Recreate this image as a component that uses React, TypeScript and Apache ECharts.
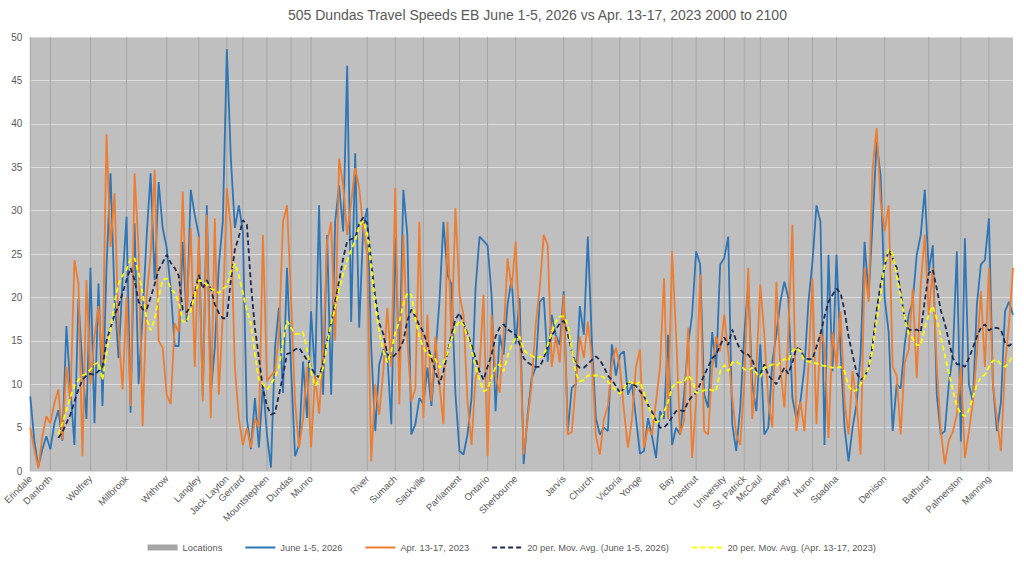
import React, { useEffect, useRef } from "react";
import * as echarts from "echarts";

const TITLE = "505 Dundas Travel Speeds EB June 1-5, 2026 vs Apr. 13-17, 2023 2000 to 2100";

const LOCATIONS = ["Erindale","Danforth","Wolfrey","Millbrook","Withrow","Langley","Jack Layton","Gerrard","Mountstephen","Dundas","Munro","River","Sumach","Sackville","Parliament","Ontario","Sherbourne","Jarvis","Church","Victoria","Yonge","Bay","Chestnut","University","St. Patrick","McCaul","Beverley","Huron","Spadina","Denison","Bathurst","Palmerston","Manning"];
const LOCATION_INDEX = [0,5,15,24,34,42,49,53,59,65,70,84,91,98,107,114,121,133,140,147,152,160,166,173,178,182,189,195,201,213,224,232,239];

const JUNE_2026 = [
  8.6,3.5,0.5,2.5,4,2.5,5.5,7,3.5,16.7,9.5,3,19.8,12,6,23.4,5.5,21.6,7.5,23.4,34.3,20,13,22,29.3,6.7,28.5,10,18,27,34.3,22,
  33.3,28,25.7,21,14.4,14.4,26.4,17.2,32.4,29.5,27.2,8.6,30.6,9,14.2,23.7,28.7,48.6,36,28,30.6,27.6,6,2.5,8.4,2.7,10,4.2,0.4,14.2,
  18.8,9,23.4,12,1.7,3,12.6,6.1,18.4,11,30.6,8.8,27.2,8.8,28.7,32.9,27.6,46.7,17.2,36.6,16.5,28,30.3,14.2,4.6,12.3,14,13.5,5.4,26.8,
  12,32.4,27.2,4.2,5.4,8.4,7.7,11.9,7.5,13.4,19.5,28.7,22.6,21.5,8.8,2.3,1.9,4.2,8.4,21,27,26.5,26,20.3,6.9,15.7,13.4,19.2,22.2,14.6,19.9,
  0.8,6.5,10.7,11.9,19.5,20,12.6,18,15.7,14.5,20.7,4.6,9.6,10,19,15.7,27,15,6.1,4.2,5,4.6,14.6,11,13.4,13.8,8.8,10,6.1,2,
  2.3,6.1,4,1.5,6.9,6,15.7,3,5,4.2,8.8,14.6,18,25.3,23.8,8.8,7.3,16,11.9,23.8,24.5,27,5.4,2.3,7.3,15.7,21.5,10,6.9,14.6,4.2,
  5,12.6,15.7,19.5,21.8,19.9,8.4,6,8,11.9,19.5,24.1,30.6,28.7,3,24.9,11.5,24.9,14,5,1.1,5,7.7,13.4,26.4,20,28.7,37.9,34,19.9,
  16,4.6,10,9.5,14.6,18,19.5,24.9,27.2,32.4,23,26,8.8,4.2,4.6,10,13.4,25.3,3.4,26.8,10,8,19.2,23.8,24.3,29.1,10,4.6,8,18.4,19.5,18
];

const APR_2023 = [
  5,2.5,0.3,4,6.3,5.5,7.8,9.4,3.6,12,8,24.3,21.6,1.7,22,10,15.5,19,12,38.8,25.8,32,16.2,9.4,20,7.5,34.3,25.5,5.2,20,25,34.7,
  15,14.2,8.8,7.7,17,16,32.2,18,28,12,27,8,29.5,6.1,29.1,8.8,18,32.6,28,12,6.1,3,5,2.7,6,5,27.2,10.3,11,11.5,
  15.7,28.7,30.6,20,8,2.7,6,12,2.7,11,6.6,13.8,26.4,28.7,15,36,32.9,27.2,31,34.9,32.6,28,25,1.1,10,6.5,11.5,18.8,12,32.6,
  7.7,27.2,15,8,9.5,28.7,6.1,18,8,15.5,10,5.4,28.7,15,30.3,20.3,18,8,3,10.7,12,20.3,1.7,18,11,9,15.7,24.5,21,26.4,16,
  1.9,6,10,16.9,21,27.2,26,12,15.5,12.5,20.3,4.2,4.5,10,15.5,13,17.2,13,4,1.9,6,7.5,12.5,14.2,12,7,2.7,6,12,14,
  2.7,5,4.2,8,12,22.2,6,25.3,15.7,4.2,5.8,16.5,1.5,8,22.6,4.6,4.2,11.9,15.5,13.8,18,13.6,8.5,4.2,3,10,23.4,6,11.9,21.5,15.7,
  8,5,21.8,11.9,7.3,16,28.4,4.6,8,4.6,12,22.2,5.4,16,14.5,3.8,16,12,18.4,8,4.2,11.5,8,1.9,23.4,19.5,34.9,39.5,31,27.6,
  30.6,12,11,4.2,12.5,14,21,10.7,21.5,27.2,18,23.4,12,4.6,0.8,3.5,4.5,6.5,12,1.5,4.5,8,13.5,20.7,12,23.4,10,6,2.3,12,17,23.4
];

const MA_JUNE_2026 = [
  null,null,null,null,null,null,null,
  3.8,4.5,5.5,6.5,8,9.4,10.5,11,11.2,11.1,
  11.5,12,15,16.5,18,19,20.5,22,23.4,22,19.5,18.6,18.6,20,21.5,23.2,24,24.9,24,23.4,22.5,18.6,18.3,19,20.5,22.6,21,22,21,19.2,18.2,17.6,17.6,22,25.5,27,28.9,28.4,21.5,16.5,13,9.5,7.5,6.5,
  6.7,8.8,11,13.5,13.6,14,14.2,13.5,12.8,12,11.1,10.8,12.5,15,17,19.5,21.9,24.5,26.5,26.7,26.9,28.5,29.2,28.5,24,20,17,15.8,13.5,13,
  13.4,14,15,17.3,18.6,17.8,16.8,16,14.6,13,11.5,10,11.5,13.5,15.8,17.5,18.2,17,15.8,14.5,13,11.5,10.5,12,13.4,15.5,16.5,16.9,16.3,16,15.7,14.6,
  13,12.5,12.2,12,12,13,14.3,15.6,16.3,17,17.3,15.8,13.8,12.3,11.9,11.9,12.3,12.8,13.2,12.8,12,11,10.5,9.8,9,9.5,10.2,10,9.8,9.2,
  8.6,7.6,6.8,5.8,5,5,5.5,6.2,6.9,7,6.9,8,8.6,9,10,11,12,13,13.4,14.5,15.4,14.5,16.3,15,14,13.5,13.4,12.8,11.5,11.2,12.3,
  11,10.5,10,11,11.9,11.2,12.5,14.2,14,13,12.9,12.9,14.3,15.8,17.8,19.5,20.3,21,20.5,18.5,15.5,13.4,11.3,10.5,10.8,11.9,14.5,18.5,21.5,23.5,
  25.5,24.5,23.4,20.5,17.5,16.3,16.2,16.3,16,19.6,22.8,23.2,21,18.5,17,15,13,12.3,12.3,12,13,14.2,15.5,16.5,16.9,16.2,16.5,16.5,16.3,14.8,14.4,14.8
];

const MA_APR_2023 = [
  null,null,null,null,null,null,null,
  4.2,5.5,7,8.5,9.8,10.5,11,11.2,11.7,12.3,
  12.5,10.5,13.5,16.3,19.5,21.6,22.5,23.2,24.5,24.5,22.8,20.5,17.5,16.2,17.5,20,22,22.2,21,20.5,19.5,17.2,17.2,18.5,20.2,22,21.8,21.5,21,20.8,20.5,21,21.3,23,23.9,22.5,20.5,18.5,17,13.5,10.5,10,9.4,10,
  10.8,11.9,15,17.3,16.5,15.8,15.8,16,14,11.5,9.8,10.5,11.9,14.5,17,18.8,21,22.7,24.2,25.5,26.5,28.3,28.8,27.3,23.5,19,16,13.8,12.5,13.8,
  16,17.2,19.2,20.5,20.3,17.5,15.5,14.2,13.5,13.2,12.9,11.9,12.5,13.5,15.2,16.5,17.3,16.8,15.5,14,12,10.5,9.2,9.4,10.8,12,12.3,11.5,13.2,14.5,15.3,15.5,
  14,13.5,13.3,13,13.1,13.4,14.5,16,17.2,17.8,17.8,16.9,14,11.3,10.3,10.5,11,11,11,11,10.8,10.3,9.8,9.3,8.9,9.5,10.2,10.2,10,10.3,
  9,7.6,6.4,5.6,5.8,6.8,8,9.6,10.2,10.2,10.3,11,10.5,9,9.1,9.3,9.4,9.3,9.2,11.5,12.2,11.5,12.5,12.6,12.3,11.7,11.6,11.9,11.3,10.8,11.9,
  12,12.3,12.1,12.5,12.9,12.7,13.8,14.2,13.8,12.7,12.6,12.5,12.4,12.2,12.1,12,11.9,11.9,12,11.5,9.8,9.2,9.3,10,10.8,11.9,14,17.3,20.3,23.8,
  25.5,25,22.5,20,17.6,15.8,15.3,14.5,14.5,16.5,18,19,17.5,15.5,13.4,11.3,9.3,7.5,6.6,6.3,7,8.5,10,10.8,11.1,12,12.7,12.8,12.3,12,12.5,13.4
];

const LOCATION_HEIGHT = 50;
const Y_TICKS = { min: 0, max: 50, interval: 5 };

const CATEGORIES = JUNE_2026.map((_, i) => String(i));
const LOCATION_BARS = CATEGORIES.map((_, i) => (LOCATION_INDEX.includes(i) ? LOCATION_HEIGHT : null));

const TEXT = "#595959";
const FONT = '"Liberation Sans", Arial, sans-serif';

const lineLegend = (name: string) => ({ name, itemStyle: { opacity: 0 } });

export default function App() {
  const ref = useRef<HTMLDivElement>(null);
  useEffect(() => {
    const chart = echarts.init(ref.current!, null, { renderer: "svg" });
    chart.setOption({
      animation: false,
      textStyle: { fontFamily: FONT },
      title: {
        text: TITLE,
        left: 283,
        top: 3,
        textStyle: { color: TEXT, fontSize: 14, fontWeight: "normal", fontFamily: FONT },
      },
      grid: {
        left: 30,
        right: 11,
        top: 37,
        bottom: 90,
        show: true,
        backgroundColor: "#BFBFBF",
        borderWidth: 0,
      },
      legend: {
        bottom: 4,
        left: "center",
        itemWidth: 30,
        itemHeight: 6,
        itemGap: 22,
        textStyle: { color: TEXT, fontSize: 9.3 },
        data: [
          { name: "Locations", icon: "rect" },
          lineLegend("June 1-5, 2026"),
          lineLegend("Apr. 13-17, 2023"),
          lineLegend("20 per. Mov. Avg. (June 1-5, 2026)"),
          lineLegend("20 per. Mov. Avg. (Apr. 13-17, 2023)"),
        ],
      },
      xAxis: {
        type: "category",
        boundaryGap: false,
        data: CATEGORIES,
        axisLine: { show: false },
        axisTick: { show: false },
        splitLine: { show: false },
        axisLabel: {
          interval: (index: number) => LOCATION_INDEX.includes(index),
          formatter: (value: string) => {
            const k = LOCATION_INDEX.indexOf(Number(value));
            return k >= 0 ? LOCATIONS[k] : "";
          },
          rotate: 45,
          color: TEXT,
          fontSize: 9.5,
          margin: 6,
        },
      },
      yAxis: {
        type: "value",
        min: Y_TICKS.min,
        max: Y_TICKS.max,
        interval: Y_TICKS.interval,
        axisLine: { show: false },
        axisTick: { show: false },
        axisLabel: { color: TEXT, fontSize: 10, margin: 8 },
        splitLine: { lineStyle: { color: "#DCDCDC", width: 1 } },
      },
      series: [
        {
          name: "Locations",
          type: "bar",
          data: LOCATION_BARS,
          barWidth: 1,
          itemStyle: { color: "#A6A6A6" },
          z: 1,
        },
        {
          name: "June 1-5, 2026",
          type: "line",
          data: JUNE_2026,
          symbol: "none",
          lineStyle: { color: "#2E75B6", width: 1.8 },
          itemStyle: { color: "#2E75B6" },
          z: 2,
        },
        {
          name: "Apr. 13-17, 2023",
          type: "line",
          data: APR_2023,
          symbol: "none",
          lineStyle: { color: "#ED7D31", width: 1.8 },
          itemStyle: { color: "#ED7D31" },
          z: 3,
        },
        {
          name: "20 per. Mov. Avg. (June 1-5, 2026)",
          type: "line",
          data: MA_JUNE_2026,
          symbol: "none",
          lineStyle: { color: "#1F2C52", width: 1.8, type: [5, 3] },
          itemStyle: { color: "#1F2C52" },
          z: 4,
        },
        {
          name: "20 per. Mov. Avg. (Apr. 13-17, 2023)",
          type: "line",
          data: MA_APR_2023,
          symbol: "none",
          lineStyle: { color: "#FFFF00", width: 1.8, type: [5, 3] },
          itemStyle: { color: "#FFFF00" },
          z: 5,
        },
      ],
    });
    return () => chart.dispose();
  }, []);
  return (
    <div
      ref={ref}
      style={{ position: "fixed", left: 0, top: 0, width: 1024, height: 561, background: "#ffffff" }}
    />
  );
}
